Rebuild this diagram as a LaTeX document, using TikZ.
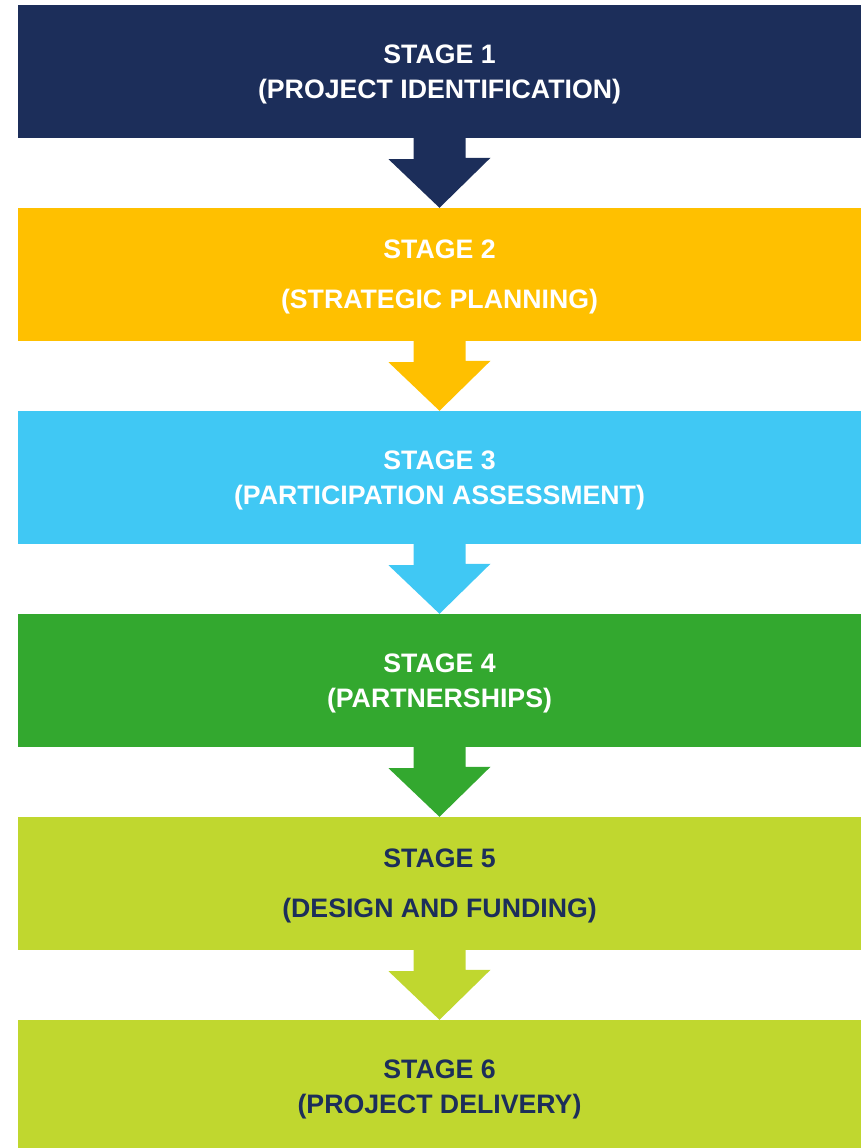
\documentclass[tikz,border=0pt]{standalone}
\usepackage{fontspec}
\setmainfont{Liberation Sans}
\usepackage{tikz}

\definecolor{stagenavy}{RGB}{28,46,90}
\definecolor{stageyellow}{RGB}{255,192,0}
\definecolor{stagesky}{RGB}{64,200,244}
\definecolor{stagegreen}{RGB}{51,168,47}
\definecolor{stagelime}{RGB}{192,215,47}

\tikzset{
    stagebox/.style={shape=rectangle, minimum width=843pt, minimum height=133pt,
        inner sep=0pt, align=center, text=white, text depth=0pt,
        font=\fontsize{26.7}{35}\selectfont\bfseries}
}

\begin{document}
\begin{tikzpicture}[x=1pt, y=-1pt]
    \useasboundingbox (0,0) rectangle (866,1148);
    \node[stagebox, fill=stagenavy] at (439.5,71.5) (S1) {STAGE 1\\(PROJECT IDENTIFICATION)};
    \node[stagebox, fill=stageyellow] at (439.5,274.5) (S2) {STAGE 2\\[15pt](STRATEGIC PLANNING)};
    \node[stagebox, fill=stagesky] at (439.5,477.5) (S3) {STAGE 3\\(PARTICIPATION ASSESSMENT)};
    \node[stagebox, fill=stagegreen] at (439.5,680.5) (S4) {STAGE 4\\(PARTNERSHIPS)};
    \node[stagebox, fill=stagelime, text=stagenavy] at (439.5,883.5) (S5) {STAGE 5\\[15pt](DESIGN AND FUNDING)};
    \node[stagebox, fill=stagelime, text=stagenavy] at (439.5,1086.5) (S6) {STAGE 6\\(PROJECT DELIVERY)};
    \fill[stagenavy] (S1.south) ++(-26,0) -- ++(0,21) -- ++(-25,0) -- (S2.north) -- ++(51,-50) -- ++(-25,0) -- ++(0,-21) -- cycle;
    \fill[stageyellow] (S2.south) ++(-26,0) -- ++(0,21) -- ++(-25,0) -- (S3.north) -- ++(51,-50) -- ++(-25,0) -- ++(0,-21) -- cycle;
    \fill[stagesky] (S3.south) ++(-26,0) -- ++(0,21) -- ++(-25,0) -- (S4.north) -- ++(51,-50) -- ++(-25,0) -- ++(0,-21) -- cycle;
    \fill[stagegreen] (S4.south) ++(-26,0) -- ++(0,21) -- ++(-25,0) -- (S5.north) -- ++(51,-50) -- ++(-25,0) -- ++(0,-21) -- cycle;
    \fill[stagelime] (S5.south) ++(-26,0) -- ++(0,21) -- ++(-25,0) -- (S6.north) -- ++(51,-50) -- ++(-25,0) -- ++(0,-21) -- cycle;
\end{tikzpicture}
\end{document}
